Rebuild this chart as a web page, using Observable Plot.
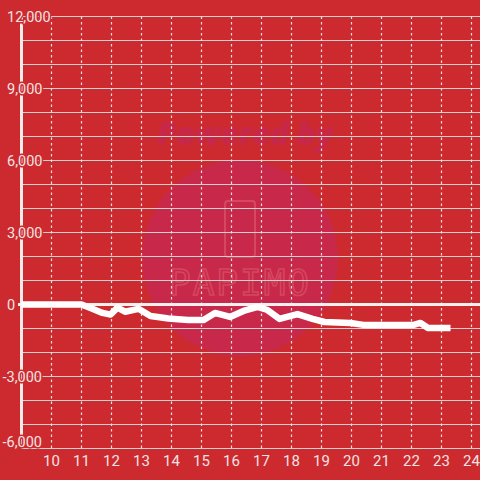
<!DOCTYPE html>
<html>
<head>
<meta charset="utf-8">
<script src="https://cdn.jsdelivr.net/npm/d3@7"></script>
<script src="https://cdn.jsdelivr.net/npm/@observablehq/plot@0.6"></script>
<style>
  html, body { margin: 0; padding: 0; background: #cc2a2f; }
  #wrap { position: relative; width: 480px; height: 480px; overflow: hidden;
    background: radial-gradient(circle 98px at 240px 258px, #c8294a 97px, rgba(0,0,0,0) 98.5px); }
  .wm { position: absolute; pointer-events: none; font-family: "Open Sans", sans-serif; }
  #chart { position: absolute; left: 0; top: 0; }
</style>
</head>
<body>
<div id="wrap">
  <div class="wm" style="left:140px;top:112px;width:210px;text-align:center;font-size:31px;font-weight:800;font-style:italic;color:#c7284a;">Powered by</div>
  <div class="wm" style="left:224px;top:200px;width:28px;height:54px;border:2px solid rgba(235,120,130,0.4);border-radius:4px;"></div>
  <div class="wm" style="left:160px;top:262px;width:160px;text-align:center;font-size:36px;font-family:'DejaVu Sans Mono',monospace;letter-spacing:2px;color:rgba(0,0,0,0);-webkit-text-stroke:1.5px rgba(235,120,130,0.4);">PAPIMO</div>
  <div id="chart"></div>
</div>
<script>
// Data
const hours  = [9, 11, 11.3, 11.7, 11.97, 12.2, 12.45, 12.9, 13.3, 13.9, 14.55, 15.07, 15.45, 15.95, 16.4, 16.87, 17.2, 17.6, 18.2, 18.7, 19.1, 19.97, 20.4, 22.07, 22.3, 22.55, 23.3];
const profit = [0, 0, -150, -350, -420, -130, -300, -180, -480, -580, -650, -650, -350, -520, -270, -100, -230, -600, -400, -600, -730, -770, -850, -850, -770, -980, -980];
const xTicks = [10, 11, 12, 13, 14, 15, 16, 17, 18, 19, 20, 21, 22, 23, 24];
const yTicks = [-6000, -3000, 0, 3000, 6000, 9000, 12000];
const yGrid = d3.range(-6000, 12001, 1000);

const series = hours.map((h, i) => ({h, v: profit[i]}));
const bg = "#cc2a2f";
const txt = "#f3e3e3";
const fmt = d3.format(",");
const yMin = d3.min(yTicks);

const chart = Plot.plot({
  width: 480,
  height: 480,
  marginTop: 16,
  marginBottom: 32,
  marginLeft: 21,
  marginRight: 0,
  style: {background: "transparent", fontFamily: "Roboto, sans-serif"},
  x: {domain: [9, 24.3], axis: null},
  y: {domain: [-6000, 12000], axis: null},
  marks: [
    Plot.ruleY(yGrid, {x1: 9, x2: 24.3, stroke: "#d6d0d0", strokeWidth: 1.2}),
    Plot.ruleX(xTicks, {y1: -6000, y2: 12000, stroke: "#e6e0e0", strokeWidth: 1.2, strokeDasharray: "2.5,3"}),
    Plot.ruleX([9], {y1: -6000, y2: 12000, stroke: "#f0ecec", strokeWidth: 3}),
    Plot.ruleY([0], {x1: 8.9, x2: 24.3, stroke: "#f4f0f0", strokeWidth: 3.2}),
    Plot.line(series, {x: "h", y: "v", stroke: "#ffffff", strokeWidth: 6.5, strokeLinejoin: "round", strokeLinecap: "butt"}),
    Plot.text(yTicks.filter(d => d >= 0), {x: 9, y: d => d, text: d => fmt(d), textAnchor: "start", dx: -14.5, dy: 0.5,
      fill: txt, stroke: bg, strokeWidth: 3, fontSize: 14.5}),
    Plot.text(yTicks.filter(d => d < 0 && d > yMin), {x: 9, y: d => d, text: d => "-" + fmt(-d), textAnchor: "start", dx: -19, dy: 0.5,
      fill: txt, stroke: bg, strokeWidth: 3, fontSize: 14.5}),
    Plot.text([yMin], {x: 9, y: d => d, text: d => "-" + fmt(-d), textAnchor: "start", dx: -19, dy: -6,
      fill: txt, stroke: bg, strokeWidth: 3, fontSize: 14.5}),
    Plot.text(xTicks, {x: d => d, y: -6000, text: d => String(d), dy: 13, fill: txt, fontSize: 15})
  ]
});
document.getElementById("chart").appendChild(chart);
</script>
</body>
</html>
